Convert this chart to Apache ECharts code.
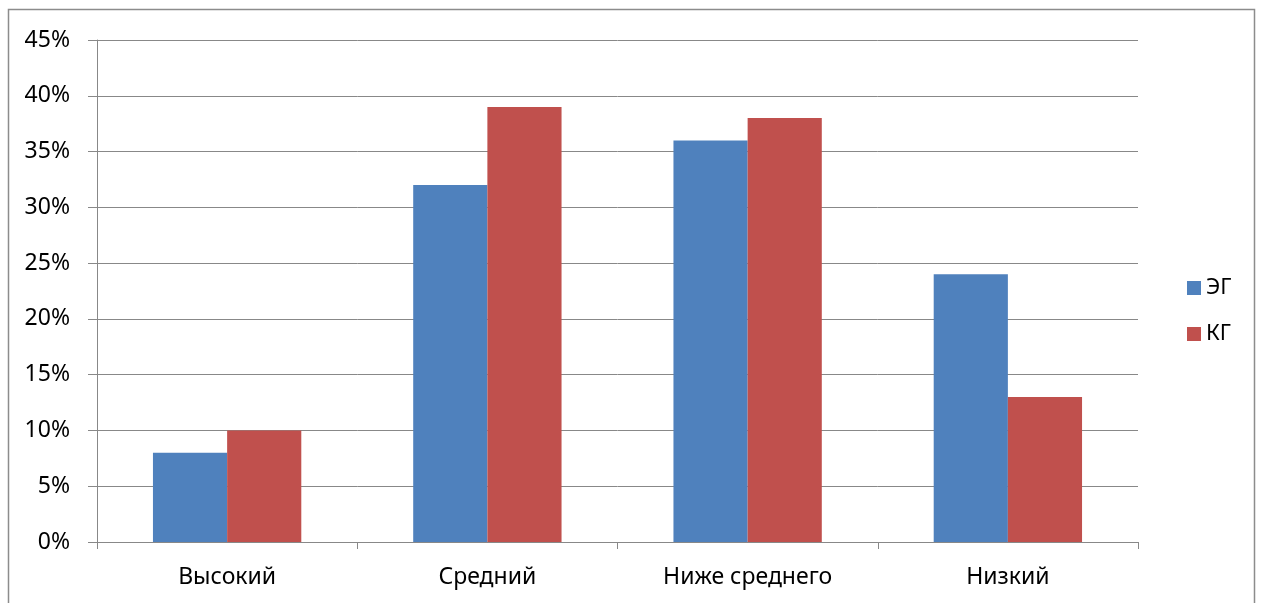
<!DOCTYPE html>
<html><head><meta charset="utf-8">
<script src="https://cdn.jsdelivr.net/npm/echarts@6/dist/echarts.min.js"></script>
<style>html,body{margin:0;padding:0;background:#fff}#c{width:1261px;height:603px}</style>
</head><body><div id="c"></div>
<script>
const categories = ['Высокий', 'Средний', 'Ниже среднего', 'Низкий'];
const seriesNames = ['ЭГ', 'КГ'];
const egValues = [8, 32, 36, 24];
const kgValues = [10, 39, 38, 13];
const yTicks = [0, 5, 10, 15, 20, 25, 30, 35, 40, 45];

const chart = echarts.init(document.getElementById('c'));
const font = 'Noto Sans';
chart.setOption({
  animation: false,
  graphic: [{type:'rect', shape:{x:8.5, y:9.5, width:1246, height:620}, style:{fill:'none', stroke:'#8c8c8c', lineWidth:1.5}, z:-1}],
  grid: {left: 97, right: 123, top: 40, bottom: 61},
  legend: {
    orient: 'vertical', left: 1182, top: 272, itemWidth: 14, itemHeight: 14, itemGap: 24,
    icon: 'rect', textStyle: {fontFamily: font, fontSize: 22, color: '#000'},
    data: seriesNames
  },
  xAxis: {
    type: 'category', data: categories,
    axisLine: {lineStyle: {color: '#888', width: 1}},
    axisTick: {show: true, length: 7, lineStyle: {color: '#888'}},
    axisLabel: {fontFamily: font, fontSize: 23, color: '#000', margin: 24}
  },
  yAxis: {
    type: 'value', min: yTicks[0], max: yTicks[yTicks.length-1], interval: 5,
    axisLine: {show: true, lineStyle: {color: '#888', width: 1}},
    axisTick: {show: true, length: 9, lineStyle: {color: '#888'}},
    splitLine: {lineStyle: {color: '#888', width: 1}},
    axisLabel: {fontFamily: font, fontSize: 23, color: '#000', margin: 27, formatter: v => v + '%'}
  },
  series: [
    {name: seriesNames[0], type: 'bar', data: egValues, barGap: '0%', barCategoryGap: '43%', itemStyle: {color: '#4F81BD'}},
    {name: seriesNames[1], type: 'bar', data: kgValues, barGap: '0%', barCategoryGap: '43%', itemStyle: {color: '#C0504D'}}
  ]
});
</script></body></html>
